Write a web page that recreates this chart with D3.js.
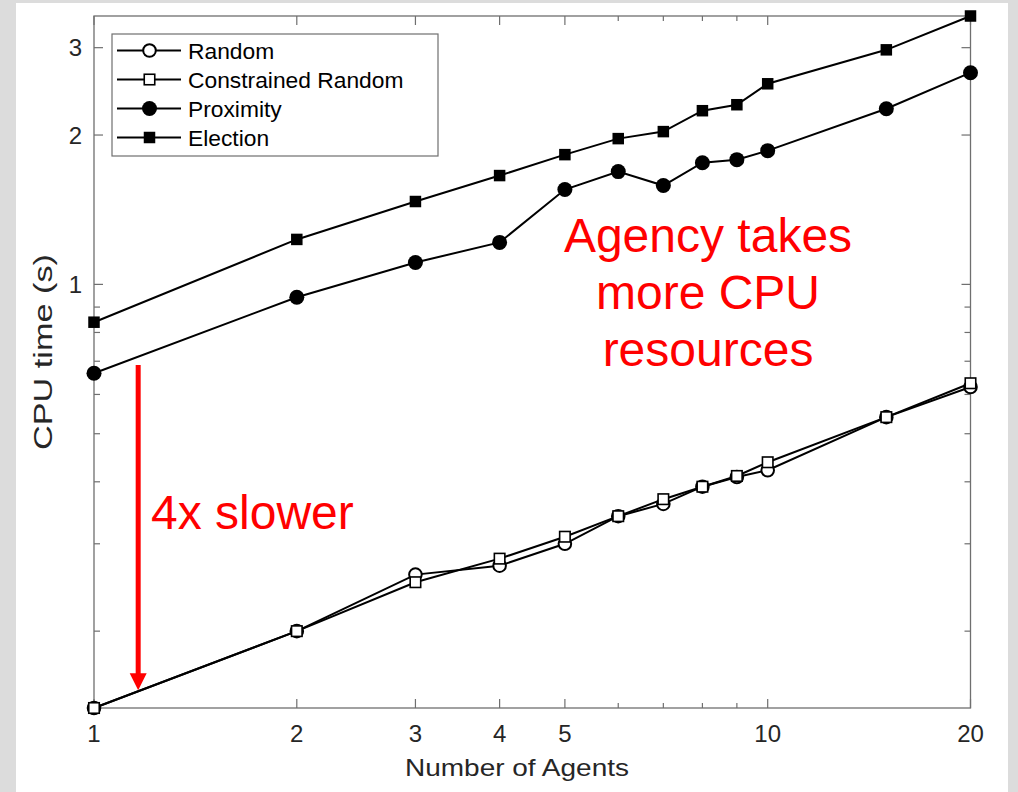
<!DOCTYPE html>
<html>
<head>
<meta charset="utf-8">
<script src="https://cdn.jsdelivr.net/npm/d3@7"></script>
<style>
  html, body { margin: 0; padding: 0; background: #dcdcdc; }
  svg { display: block; font-family: "Liberation Sans", Arial, sans-serif; }
</style>
</head>
<body>
<script>
const agents = [1, 2, 3, 4, 5, 6, 7, 8, 9, 10, 15, 20];
const randomTime = [0.140, 0.200, 0.260, 0.271, 0.300, 0.341, 0.361, 0.391, 0.409, 0.422, 0.540, 0.621];
const constrainedTime = [0.140, 0.200, 0.251, 0.280, 0.310, 0.341, 0.369, 0.391, 0.411, 0.438, 0.540, 0.632];
const proximityTime = [0.662, 0.942, 1.107, 1.215, 1.553, 1.688, 1.582, 1.759, 1.784, 1.860, 2.260, 2.671];
const electionTime = [0.839, 1.232, 1.469, 1.657, 1.826, 1.967, 2.032, 2.239, 2.302, 2.537, 2.970, 3.475];

const seriesNames = ["Random", "Constrained Random", "Proximity", "Election"];
const xTickVals = [1, 2, 3, 4, 5, 6, 7, 8, 9, 10, 20];
const xTickLabels = ["1", "2", "3", "4", "5", "", "", "", "", "10", "20"];
const yTickVals = [0.2, 0.3, 0.4, 0.5, 0.6, 0.7, 0.8, 0.9, 1, 2, 3];
const yTickLabels = ["", "", "", "", "", "", "", "", "1", "2", "3"];

const w = 1018, h = 792;
const pLeft = 94, pTop = 16, pRight = 970.5, pBottom = 708;

const svg = d3.select("body").append("svg").attr("width", w).attr("height", h);
svg.append("rect").attr("x", 16).attr("y", 3).attr("width", 992).attr("height", 789).attr("fill", "white");

const allY = randomTime.concat(constrainedTime, proximityTime, electionTime);
const x = d3.scaleLog().domain(d3.extent(agents)).range([pLeft, pRight]);
const y = d3.scaleLog().domain(d3.extent(allY)).range([pBottom, pTop]);

const axisColor = "#6f6f6f";
const textColor = "#262626";

// ticks (inward, on all four sides)
const major = v => [1, 2, 3, 4, 5, 10, 20].includes(v);
xTickVals.forEach(v => {
  const len = major(v) ? 9 : 5;
  svg.append("line").attr("x1", x(v)).attr("x2", x(v)).attr("y1", pBottom).attr("y2", pBottom - len)
    .attr("stroke", axisColor).attr("stroke-width", 1.2);
  svg.append("line").attr("x1", x(v)).attr("x2", x(v)).attr("y1", pTop).attr("y2", pTop + len)
    .attr("stroke", axisColor).attr("stroke-width", 1.2);
});
xTickVals.forEach((v, i) => {
  svg.append("text").attr("x", x(v)).attr("y", 742).attr("text-anchor", "middle")
    .attr("font-size", 24).attr("fill", textColor).text(xTickLabels[i]);
});
yTickVals.forEach((v, i) => {
  const len = yTickLabels[i] ? 9 : 6;
  svg.append("line").attr("x1", pLeft).attr("x2", pLeft + len).attr("y1", y(v)).attr("y2", y(v))
    .attr("stroke", axisColor).attr("stroke-width", 1.2);
  svg.append("line").attr("x1", pRight).attr("x2", pRight - len).attr("y1", y(v)).attr("y2", y(v))
    .attr("stroke", axisColor).attr("stroke-width", 1.2);
  svg.append("text").attr("x", 82).attr("y", y(v) + 8.5).attr("text-anchor", "end")
    .attr("font-size", 24).attr("fill", textColor).text(yTickLabels[i]);
});

svg.append("rect").attr("x", pLeft).attr("y", pTop).attr("width", pRight - pLeft).attr("height", pBottom - pTop)
  .attr("fill", "none").attr("stroke", axisColor).attr("stroke-width", 1.3);

svg.append("text").attr("x", 517).attr("y", 776).attr("text-anchor", "middle")
  .attr("font-size", 24).attr("fill", textColor)
  .attr("textLength", 224).attr("lengthAdjust", "spacingAndGlyphs").text("Number of Agents");
svg.append("text").attr("transform", "translate(52,352) rotate(-90)").attr("text-anchor", "middle")
  .attr("font-size", 25).attr("fill", textColor)
  .attr("textLength", 196).attr("lengthAdjust", "spacingAndGlyphs").text("CPU time (s)");

// series
const series = [
  { name: seriesNames[0], vals: randomTime, shape: "circle", fill: "white" },
  { name: seriesNames[1], vals: constrainedTime, shape: "square", fill: "white" },
  { name: seriesNames[2], vals: proximityTime, shape: "circle", fill: "black" },
  { name: seriesNames[3], vals: electionTime, shape: "square", fill: "black" }
];

const line = d3.line().x(d => x(d[0])).y(d => y(d[1]));

function marker(g, s, cx, cy) {
  if (s.shape === "circle") {
    const r = s.fill === "black" ? 7.5 : 6.3;
    g.append("circle").attr("cx", cx).attr("cy", cy).attr("r", r)
      .attr("fill", s.fill).attr("stroke", "black").attr("stroke-width", s.fill === "black" ? 0 : 2);
  } else {
    const a = s.fill === "black" ? 11.5 : 10.5;
    g.append("rect").attr("x", cx - a / 2).attr("y", cy - a / 2).attr("width", a).attr("height", a)
      .attr("fill", s.fill).attr("stroke", "black").attr("stroke-width", s.fill === "black" ? 0 : 1.6);
  }
}

series.forEach(s => {
  const pts = agents.map((a, i) => [a, s.vals[i]]);
  svg.append("path").datum(pts).attr("d", line).attr("fill", "none")
    .attr("stroke", "black").attr("stroke-width", 2);
});
series.forEach(s => {
  const g = svg.append("g");
  agents.forEach((a, i) => marker(g, s, x(a), y(s.vals[i])));
});

// legend
const lg = svg.append("g");
lg.append("rect").attr("x", 112).attr("y", 34).attr("width", 326).attr("height", 122)
  .attr("fill", "white").attr("stroke", axisColor).attr("stroke-width", 1.2);
series.forEach((s, i) => {
  const ly = 50.5 + i * 29;
  lg.append("line").attr("x1", 117).attr("x2", 181).attr("y1", ly).attr("y2", ly)
    .attr("stroke", "black").attr("stroke-width", 2);
  marker(lg, s, 149.5, ly);
  lg.append("text").attr("x", 188).attr("y", ly + 8).attr("font-size", 22.8).attr("fill", "black").text(s.name);
});

// annotations
const red = "#ff0000";
const arrowX = x(1.163);
const arrowTop = y(0.688), arrowTip = y(0.152);
svg.append("line").attr("x1", arrowX).attr("x2", arrowX).attr("y1", arrowTop).attr("y2", arrowTip - 15)
  .attr("stroke", red).attr("stroke-width", 5);
svg.append("path")
  .attr("d", `M${arrowX - 8.5},${arrowTip - 17} L${arrowX + 8.5},${arrowTip - 17} L${arrowX},${arrowTip} Z`)
  .attr("fill", red);

svg.append("text").attr("x", 151).attr("y", 529).attr("font-size", 48).attr("fill", red).text("4x slower");

const note = ["Agency takes", "more CPU", "resources"];
note.forEach((t, i) => {
  svg.append("text").attr("x", 708).attr("y", 252 + i * 57).attr("text-anchor", "middle")
    .attr("font-size", 48).attr("fill", red).text(t);
});
</script>
</body>
</html>
